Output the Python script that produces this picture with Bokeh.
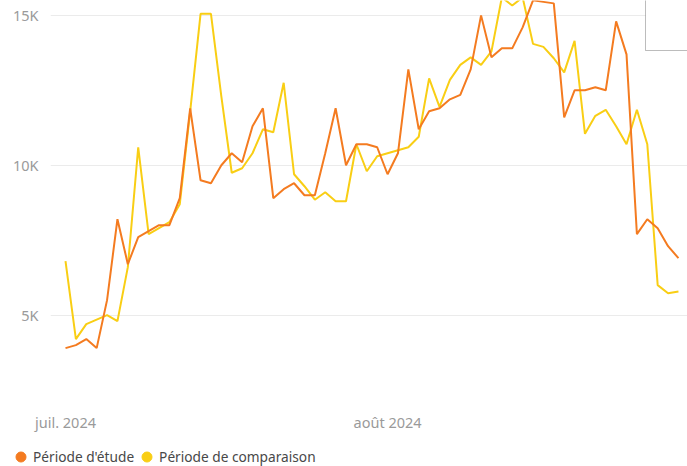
import pandas as pd
from bokeh.plotting import figure
from bokeh.models import (Range1d, FixedTicker, BoxAnnotation, Legend, LegendItem,
                          ColumnDataSource)
from bokeh.layouts import column
from bokeh.embed import file_html
from bokeh.resources import INLINE

# ---------------- data ----------------
dates = list(pd.date_range("2024-07-01", periods=60, freq="D"))

etude = [3900, 4000, 4200, 3900, 5500, 8200, 6700, 7600, 7800, 8000,
         8000, 8900, 11900, 9500, 9400, 10000, 10400, 10100, 11300, 11900,
         8900, 9200, 9400, 9000, 9000, 10400, 11900, 10000, 10700, 10700,
         10600, 9700, 10400, 13200, 11200, 11800, 11900, 12200, 12350, 13200,
         15000, 13600, 13900, 13900, 14600, 15500, 15450, 15400, 11600, 12500,
         12500, 12600, 12500, 14800, 13700, 7700, 8200, 7900, 7300, 6900]

comparaison = [6800, 4200, 4700, 4850, 5000, 4800, 6600, 10600, 7700, 7900,
               8100, 8700, 11800, 15050, 15050, 12300, 9750, 9900, 10400, 11200,
               11100, 12750, 9700, 9300, 8850, 9100, 8800, 8800, 10700, 9800,
               10300, 10400, 10500, 10600, 10950, 12900, 11950, 12850, 13350, 13600,
               13350, 13800, 15600, 15330, 15600, 14050, 13950, 13570, 13100, 14150,
               11050, 11650, 11850, 11300, 10700, 11850, 10700, 6000, 5730, 5790]

series_labels = ["Période d'étude", "Période de comparaison"]
month_ticks = ["2024-07-01", "2024-08-01"]
month_labels = ["juil. 2024", "août 2024"]
y_ticks = [5000, 10000, 15000]
y_labels = ["5K", "10K", "15K"]

# ---------------- style ----------------
ORANGE = "#F47B20"
YELLOW = "#F9CE14"
FONT = "Noto Sans"
TICK_COLOR = "#9a9a9a"
DAY = 86400000

t0 = pd.Timestamp(month_ticks[0]).value // 10**6
x_start = t0 - 1.444 * DAY
x_end = t0 + 59.87 * DAY

p = figure(width=687, height=434, x_axis_type="datetime",
           output_backend="svg", toolbar_location=None,
           x_range=Range1d(x_start, x_end), y_range=Range1d(2252, 15496),
           min_border_left=50, min_border_right=0, min_border_top=0,
           min_border_bottom=34)
p.frame_align = False
p.outline_line_color = None
p.background_fill_color = "white"
p.border_fill_color = "white"

src = ColumnDataSource(dict(date=dates, etude=etude, comparaison=comparaison))
p.line("date", "comparaison", source=src, line_color=YELLOW, line_width=2)
p.line("date", "etude", source=src, line_color=ORANGE, line_width=2)

# grid
p.xgrid.visible = False
p.ygrid.ticker = FixedTicker(ticks=y_ticks)
p.ygrid.grid_line_color = "#ebebeb"
p.ygrid.grid_line_width = 1

# y axis
p.yaxis.ticker = FixedTicker(ticks=y_ticks)
p.yaxis.major_label_overrides = {t: l for t, l in zip(y_ticks, y_labels)}
p.yaxis.major_label_standoff = 12

# x axis
x_tick_vals = [pd.Timestamp(d).value // 10**6 for d in month_ticks]
p.xaxis.ticker = FixedTicker(ticks=x_tick_vals)
p.xaxis.major_label_overrides = {t: l for t, l in zip(x_tick_vals, month_labels)}
p.xaxis.major_label_standoff = 14

for ax in (p.xaxis[0], p.yaxis[0]):
    ax.axis_line_color = None
    ax.major_tick_line_color = None
    ax.minor_tick_line_color = None
    ax.major_tick_out = 0
    ax.major_tick_in = 0
    ax.minor_tick_out = 0
    ax.major_label_text_font = FONT
    ax.major_label_text_font_size = "14.5px"
    ax.major_label_text_color = TICK_COLOR

# partially visible tooltip box in the top-right corner
box = BoxAnnotation(left=645, right=720, top=-20, bottom=50,
                    left_units="canvas", right_units="canvas",
                    top_units="canvas", bottom_units="canvas",
                    fill_color="white", fill_alpha=1.0,
                    line_color="#222222", line_width=1)
p.add_layout(box)

# ---------------- legend strip ----------------
lf = figure(width=687, height=32, output_backend="svg", toolbar_location=None,
            x_axis_location=None, y_axis_location=None,
            x_range=p.x_range, y_range=p.y_range,
            min_border=0, min_border_left=0, min_border_right=0,
            min_border_top=0, min_border_bottom=0)
lf.frame_align = False
lf.grid.visible = False
lf.outline_line_color = None
lf.background_fill_color = "white"
lf.border_fill_color = "white"

r1 = lf.scatter("date", "etude", source=src, marker="circle",
                fill_color=ORANGE, line_color=ORANGE, visible=False)
r2 = lf.scatter("date", "comparaison", source=src, marker="circle",
                fill_color=YELLOW, line_color=YELLOW, visible=False)

legend = Legend(items=[LegendItem(label=series_labels[0], renderers=[r1]),
                       LegendItem(label=series_labels[1], renderers=[r2])],
                orientation="horizontal", location=(8, -3),
                glyph_width=25, glyph_height=25, label_standoff=0,
                spacing=0, padding=0, margin=0,
                border_line_color=None, background_fill_alpha=0,
                label_text_font=FONT, label_text_font_size="13.7px",
                label_text_color="#484848")
lf.add_layout(legend)

layout = column(p, lf, spacing=0)

open("out.html", "w").write(file_html(layout, INLINE))
